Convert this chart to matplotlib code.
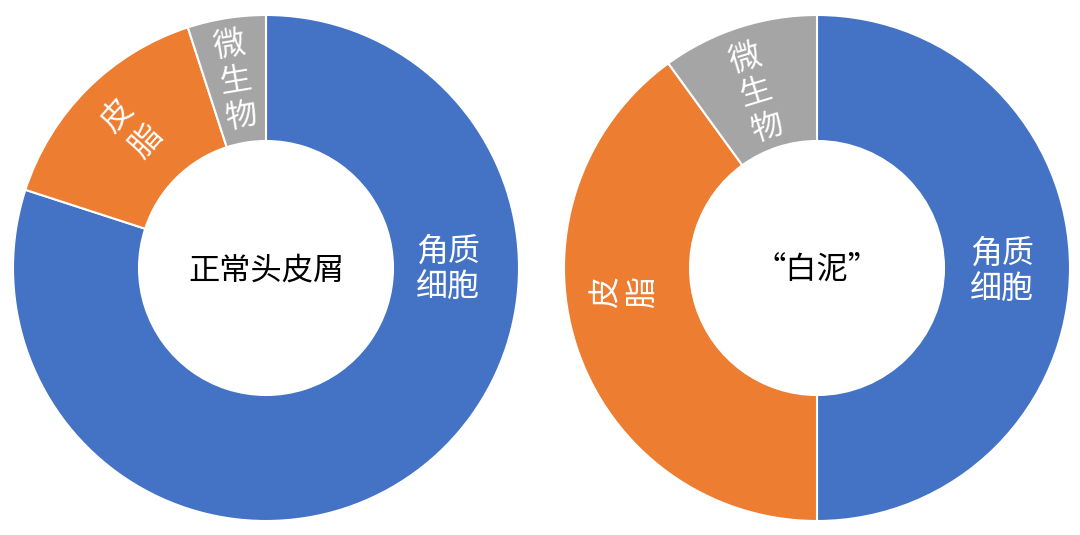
import numpy as np
import matplotlib.pyplot as plt

plt.rcParams["font.family"] = ["Noto Sans CJK SC", "DejaVu Sans"]

categories = ["角质细胞", "皮脂", "微生物"]
normal_values = [80, 15, 5]
baini_values = [50, 40, 10]
center_titles = ["正常头皮屑", "“白泥”"]

colors = ["#4472C4", "#ED7D31", "#A5A5A5"]

W, H = 1080, 535
fig = plt.figure(figsize=(W / 100, H / 100), dpi=100)
ax = fig.add_axes([0, 0, 1, 1])

outer_r = 253
ring_w = 126


def stacked(x, y, parts, angle, step, size=23):
    # parts are written top to bottom, then the whole block is turned by angle
    t = np.deg2rad(angle)
    down = np.array([np.sin(t), -np.cos(t)])
    n = len(parts)
    for i, p in enumerate(parts):
        off = (i - (n - 1) / 2) * step * down
        ax.text(x + off[0], y + off[1], p, ha="center", va="center",
                fontsize=size, color="white", rotation=angle,
                rotation_mode="anchor")


def donut(values, cx, cy, title, labels):
    ax.pie(values, colors=colors, startangle=90, counterclock=False,
           center=(cx, cy), radius=outer_r, frame=True,
           wedgeprops=dict(width=ring_w, edgecolor="white", linewidth=1.5))
    ax.text(cx, cy - 2, title, ha="center", va="center", fontsize=22.5, color="black")
    for (dx, dy, rot, step, parts) in labels:
        stacked(cx + dx, cy + dy, parts, rot, step)


cy = H - 268
donut(normal_values, 266, cy, center_titles[0], [
    (182, -2, 0, 36, ["角质", "细胞"]),
    (-134, 139, 48, 39, list(categories[1])),
    (-31, 187, 9.5, 36.5, list(categories[2])),
])
donut(baini_values, 817, cy, center_titles[1], [
    (185, -4, 0, 36, ["角质", "细胞"]),
    (-192, -24, 90, 37, list(categories[1])),
    (-61, 175, 17, 36, list(categories[2])),
])

ax.set_xlim(0, W)
ax.set_ylim(0, H)
ax.set_aspect("equal")
ax.axis("off")
fig.savefig("out.png", dpi=100)
